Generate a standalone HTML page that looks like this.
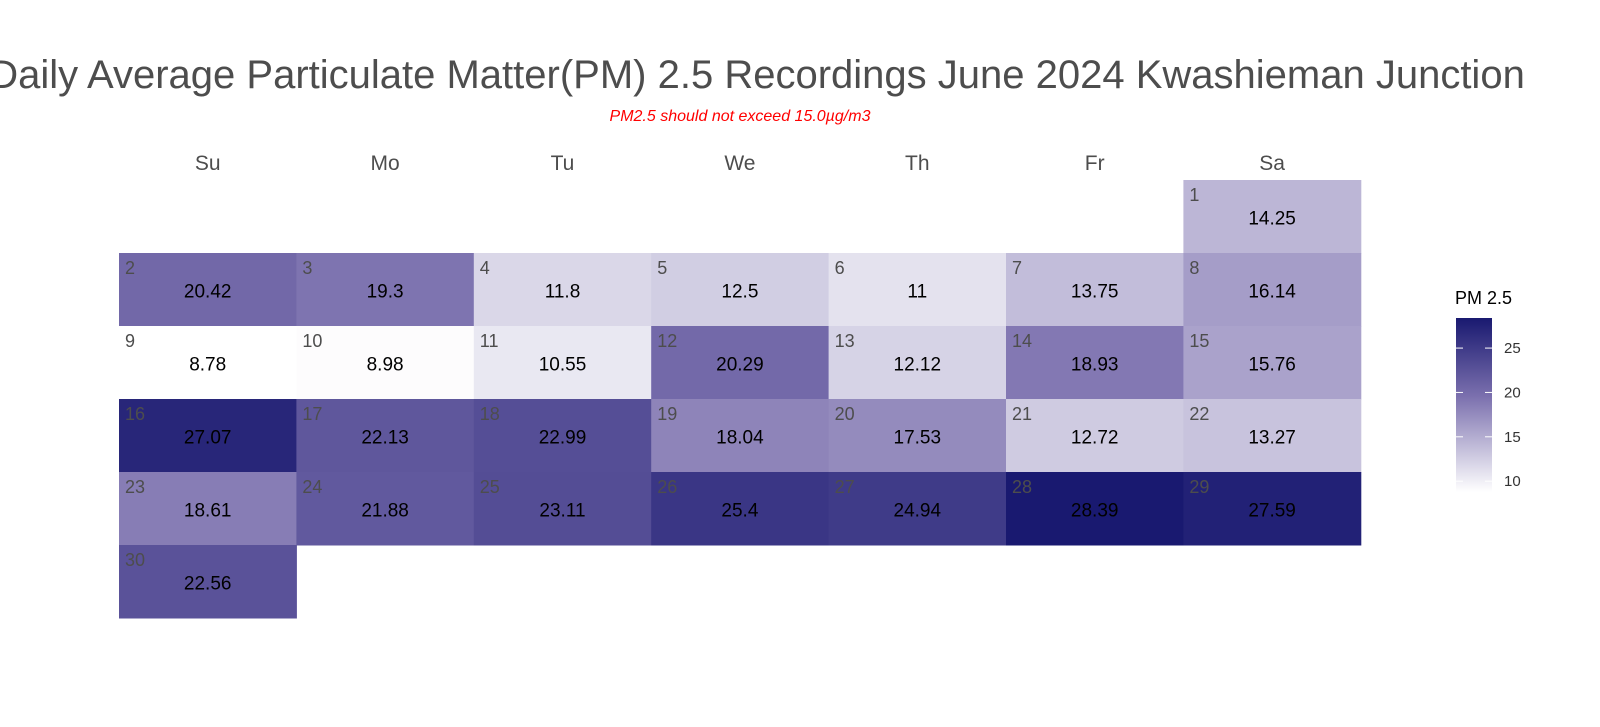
<!DOCTYPE html>
<html><head><meta charset="utf-8"><style>
body{margin:0;background:#fff;font-family:"Liberation Sans",sans-serif;}
</style></head><body>
<svg width="1600" height="722" xmlns="http://www.w3.org/2000/svg" font-family="Liberation Sans, sans-serif">
<defs><linearGradient id="lg" x1="0" y1="1" x2="0" y2="0">
<stop offset="0" stop-color="#ffffff"/><stop offset="0.55" stop-color="#7b70ae"/><stop offset="1" stop-color="#191970"/>
</linearGradient></defs>
<text x="757" y="88" text-anchor="middle" font-size="40" fill="#4d4d4d">Daily Average Particulate Matter(PM) 2.5 Recordings June 2024 Kwashieman Junction</text>
<text x="740" y="121" text-anchor="middle" font-size="16" font-style="italic" fill="#ff0000">PM2.5 should not exceed 15.0µg/m3</text>
<g id="cells"></g>
<g id="legend"></g>
</svg>
<script>
const days=["Su","Mo","Tu","We","Th","Fr","Sa"];
const values=[14.25,20.42,19.3,11.8,12.5,11,13.75,16.14,8.78,8.98,10.55,20.29,12.12,18.93,15.76,27.07,22.13,22.99,18.04,17.53,12.72,13.27,18.61,21.88,23.11,25.4,24.94,28.39,27.59,22.56];
const firstWeekday=6;
const legendTicks=[10,15,20,25];
const NS="http://www.w3.org/2000/svg";
const x0=119,cw=177.4,y0=180,ch=73;
const vmin=Math.min(...values),vmax=Math.max(...values);
function mix(a,b,t){return a.map((v,i)=>Math.round(v+(b[i]-v)*t));}
function color(v){const t=(v-vmin)/(vmax-vmin);const w=[255,255,255],m=[123,112,174],d=[25,25,112];
const c=t<0.55?mix(w,m,t/0.55):mix(m,d,(t-0.55)/0.45);return `rgb(${c})`;}
function el(tag,attrs,parent,txt){const e=document.createElementNS(NS,tag);for(const k in attrs)e.setAttribute(k,attrs[k]);if(txt!==undefined)e.textContent=txt;parent.appendChild(e);return e;}
const svg=document.querySelector('svg');const g=document.getElementById('cells');
days.forEach((d,i)=>{const t=el('text',{x:x0+cw*i+cw/2,y:170,'text-anchor':'middle','font-size':21,fill:'#4d4d4d'},svg,d);

});
values.forEach((v,i)=>{const pos=firstWeekday+i;const col=pos%7,row=Math.floor(pos/7);
const x=x0+col*cw,y=y0+row*ch;
const r=el('rect',{x:x,y:y,width:cw+0.5,height:ch+0.5,fill:color(v)},g);


const n=el('text',{x:x+6,y:y+21,'font-size':18,fill:'#4d4d4d'},g,String(i+1));


const t=el('text',{x:x+cw/2,y:y+ch/2+8,'text-anchor':'middle','font-size':19,fill:'#000'},g,String(v));

});
const L=document.getElementById('legend');
const lt=el('text',{x:1455,y:304,'font-size':18,fill:'#000'},L,'PM 2.5');


const ly0=318,ly1=492;
const lb=el('rect',{x:1456,y:ly0,width:36,height:ly1-ly0,fill:'url(#lg)'},L);


function ly(v){return ly1-(v-vmin)/(vmax-vmin)*(ly1-ly0);}
legendTicks.forEach(v=>{const y=ly(v);
el('line',{x1:1456,x2:1463,y1:y,y2:y,stroke:'#fff','stroke-width':1},L);
el('line',{x1:1485,x2:1492,y1:y,y2:y,stroke:'#fff','stroke-width':1},L);
const t=el('text',{x:1504,y:y+5,'font-size':15,fill:'#333'},L,String(v));

});
</script>
</body></html>
